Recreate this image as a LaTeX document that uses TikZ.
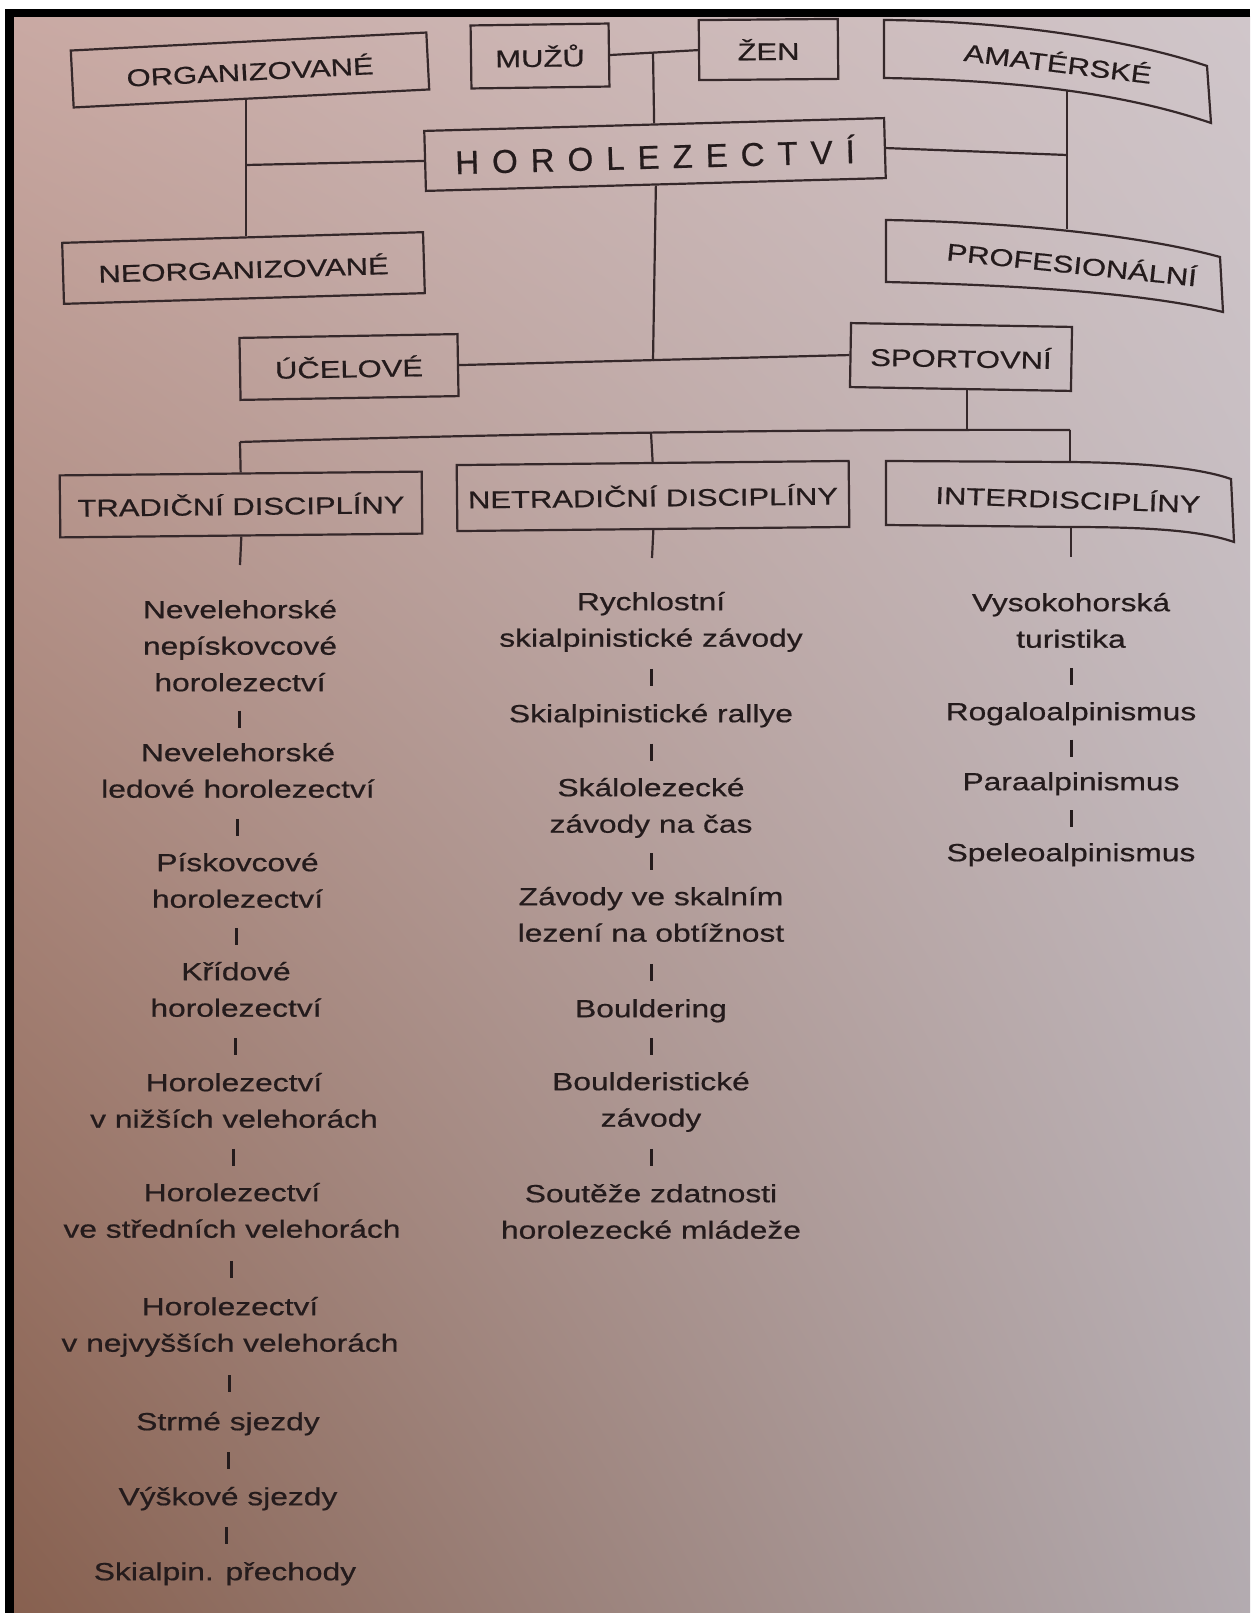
\documentclass[tikz,border=0pt]{standalone}
\usepackage{fontspec}
\setmainfont{Liberation Sans}[FakeStretch=1.28,FakeBold=0.6]
\newfontfamily\horfont{Liberation Sans}[FakeBold=0.6]
\usetikzlibrary{calc,shadings}
\definecolor{linec}{HTML}{35282A}
\definecolor{textc}{HTML}{241B1C}
\definecolor{bgUL}{HTML}{C9A9A3}
\definecolor{bgUR}{HTML}{D0C6CA}
\definecolor{bgLL}{HTML}{87604F}
\definecolor{bgLR}{HTML}{B3ABB0}
\newcommand\tb{\rule{0pt}{20pt}}
\newcommand\bb{\rule[-6pt]{0pt}{6pt}}
\newcommand\lsp{\kern13pt\relax}
\begin{document}
\begin{tikzpicture}[x=1pt,y=-1pt,
  box/.style={draw=linec, line width=2.2pt, inner sep=0pt, text=textc, font=\fontsize{24.2}{29}\selectfont},
  curvebox/.style={draw=linec, line width=2.2pt},
  boxtext/.style={inner sep=0pt, text=textc, font=\fontsize{24.2}{29}\selectfont},
  item/.style={align=center, inner sep=0pt, anchor=north, text=textc, font=\fontsize{24.8}{36.5}\selectfont},
  conn/.style={draw=linec, line width=2.2pt},
  tick/.style={draw=textc, line width=3pt}]
\useasboundingbox (0,0) rectangle (1252,1613);
\fill[white] (0,0) rectangle (1252,1613);
\shade[upper left=bgUL, upper right=bgUR, lower left=bgLL, lower right=bgLR] (14,17) rectangle (1250,1613);
\fill[black] (5,9) rectangle (1250,17);
\fill[black] (5,9) rectangle (14,1613);

% top level boxes
\node[box, minimum width=356pt, minimum height=57pt, rotate=2.9] (org) at (250,70) {ORGANIZOVANÉ};
\node[box, minimum width=138pt, minimum height=63pt, rotate=0.8] (muzu) at (540,56) {MUŽŮ};
\node[box, minimum width=139pt, minimum height=60pt, rotate=0.5] (zen) at (768.5,49.5) {ŽEN};
\node[box, minimum width=460pt, minimum height=60pt, rotate=1.6, font=\horfont\fontsize{33}{38}\selectfont] (horol) at (655,154.5)
  {H\lsp O\lsp R\lsp O\lsp L\lsp E\lsp Z\lsp E\lsp C\lsp T\lsp V\lsp Í};
\node[box, minimum width=361pt, minimum height=61pt, rotate=1.7] (neorg) at (243.5,268) {NEORGANIZOVANÉ};
\node[box, minimum width=218pt, minimum height=62pt, rotate=1] (ucel) at (349,367) {ÚČELOVÉ};
\node[box, minimum width=221pt, minimum height=64pt, rotate=-1] (sport) at (961,357) {SPORTOVNÍ};

% curved boxes
\draw[curvebox] (884,20) .. controls (1010,21) and (1130,40) .. (1207,66) -- (1211,123)
  .. controls (1120,92) and (1010,80) .. (884,78) -- cycle;
\node[boxtext, rotate=-7] (amat) at (1058,62) {AMATÉRSKÉ};
\draw[curvebox] (886,220) .. controls (1010,222) and (1140,235) .. (1220,257) -- (1223,312)
  .. controls (1140,292) and (1010,285) .. (886,282) -- cycle;
\node[boxtext, rotate=-6] (prof) at (1072,263) {PROFESIONÁLNÍ};

% discipline boxes
\node[box, minimum width=362pt, minimum height=62pt, rotate=0.6] (trad) at (241,504.5) {TRADIČNÍ DISCIPLÍNY};
\node[box, minimum width=392pt, minimum height=66pt, rotate=0.6] (netrad) at (653,496) {NETRADIČNÍ DISCIPLÍNY};
\draw[curvebox] (886,461) -- (1070,462) .. controls (1160,463) and (1205,470) .. (1231,479) -- (1234,542)
  .. controls (1205,532) and (1160,527) .. (1070,527) -- (886,525) -- cycle;
\node[boxtext, rotate=-2] (inter) at (1068,498) {INTERDISCIPLÍNY};

% junction coordinates
\coordinate (j1) at (653,53);
\coordinate (jl) at (246,165);
\coordinate (jr) at (1067,155);
\coordinate (amatb) at (1067,90);
\coordinate (proft) at (1067,229);
\coordinate (jc) at (653,361);
\coordinate (sportj) at (967,431);
\coordinate (bl) at (240,442);
\coordinate (bm) at (651,433);
\coordinate (br) at (1070,430);
\coordinate (intert) at (1070,462);
\coordinate (interb) at (1071,527);
\coordinate (trads) at (240,565);
\coordinate (netrads) at (652,558);
\coordinate (inters) at (1071,557);

% connectors
\draw[conn] (muzu.east) -- (zen.west);
\draw[conn] (j1) -- (horol.north);
\draw[conn] (horol.west) -- (jl);
\draw[conn] (jl |- org.south) -- (jl |- neorg.north);
\draw[conn] (horol.east) -- (jr);
\draw[conn] (amatb) -- (proft);
\draw[conn] (horol.south) -- (jc);
\draw[conn] (ucel.east) -- (sport.west);
\draw[conn] (sportj |- sport.south) -- (sportj);
\draw[conn] (bl) .. controls (500,434) and (800,429) .. (br);
\draw[conn] (bl) -- (trad.north);
\draw[conn] (bm) -- (netrad.north);
\draw[conn] (br) -- (intert);
\draw[conn] (trad.south) -- (trads);
\draw[conn] (netrad.south) -- (netrads);
\draw[conn] (interb) -- (inters);

% left column
\node[item] (l1) at (240,598) {\tb Nevelehorské\\nepískovcové\\horolezectví\bb};
\node[item] (l2) at (238,741) {\tb Nevelehorské\\ledové horolezectví\bb};
\node[item] (l3) at (237.5,851) {\tb Pískovcové\\horolezectví\bb};
\node[item] (l4) at (236,960) {\tb Křídové\\horolezectví\bb};
\node[item] (l5) at (234,1071) {\tb Horolezectví\\v nižších velehorách\bb};
\node[item] (l6) at (232,1181) {\tb Horolezectví\\ve středních velehorách\bb};
\node[item] (l7) at (230,1295) {\tb Horolezectví\\v nejvyšších velehorách\bb};
\node[item] (l8) at (228,1410) {\tb Strmé sjezdy\bb};
\node[item] (l9) at (228,1485) {\tb Výškové sjezdy\bb};
\node[item] (l10) at (225,1560) {\tb Skialpin. přechody\bb};

% middle column
\node[item] (m1) at (651,590) {\tb Rychlostní\\skialpinistické závody\bb};
\node[item] (m2) at (651,702) {\tb Skialpinistické rallye\bb};
\node[item] (m3) at (651,776) {\tb Skálolezecké\\závody na čas\bb};
\node[item] (m4) at (651,885) {\tb Závody ve skalním\\lezení na obtížnost\bb};
\node[item] (m5) at (651,997) {\tb Bouldering\bb};
\node[item] (m6) at (651,1070) {\tb Boulderistické\\závody\bb};
\node[item] (m7) at (651,1182) {\tb Soutěže zdatnosti\\horolezecké mládeže\bb};

% right column
\node[item] (r1) at (1071,591) {\tb Vysokohorská\\turistika\bb};
\node[item] (r2) at (1071,700) {\tb Rogaloalpinismus\bb};
\node[item] (r3) at (1071,770) {\tb Paraalpinismus\bb};
\node[item] (r4) at (1071,841) {\tb Speleoalpinismus\bb};

% ticks between items
\foreach \a/\b in {l1/l2,l2/l3,l3/l4,l4/l5,l5/l6,l6/l7,l7/l8,l8/l9,l9/l10,
                   m1/m2,m2/m3,m3/m4,m4/m5,m5/m6,m6/m7,
                   r1/r2,r2/r3,r3/r4}
  \draw[tick] ($(\a.south)!0.5!(\b.north)+(0,-8.5)$) -- ($(\a.south)!0.5!(\b.north)+(0,8.5)$);
\end{tikzpicture}
\end{document}
